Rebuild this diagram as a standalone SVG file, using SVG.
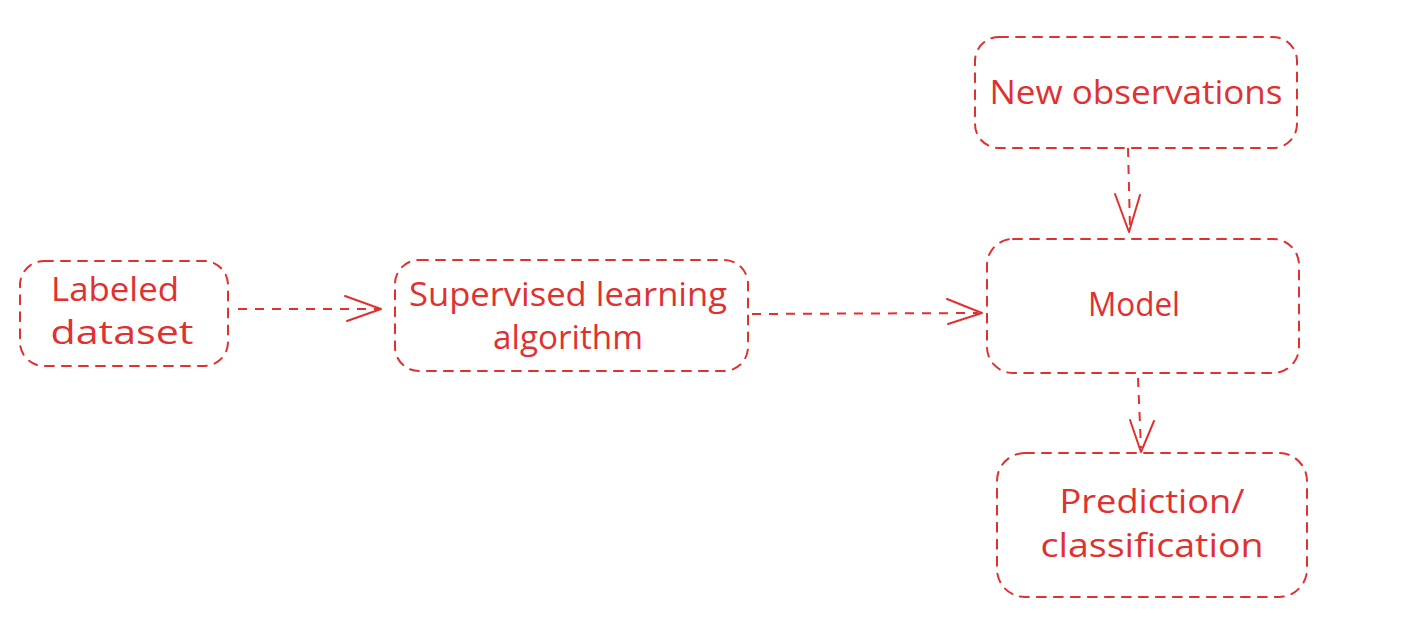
<svg xmlns="http://www.w3.org/2000/svg" width="1425" height="633" viewBox="0 0 1425 633">
<style>
.box{fill:none;stroke:#e03131;stroke-width:2;stroke-dasharray:9 8;stroke-linecap:round}
.edge{fill:none;stroke:#e03131;stroke-width:2;stroke-dasharray:9 8}
.head{fill:none;stroke:#e03131;stroke-width:2;stroke-linecap:round;stroke-linejoin:round}
.t{font-family:"Open Sans","Liberation Sans",sans-serif;font-size:32px;fill:#e03131;text-anchor:middle}
</style>
<rect width="1425" height="633" fill="#ffffff"/>
<g id="connectors">
<path class="edge" d="M238 309 L378 309"/>
<path class="head" d="M345 296 L381 309 L347 321"/>
<path class="edge" d="M752 314 L978 313"/>
<path class="head" d="M947 299 L982 313 L948 324"/>
<path class="edge" d="M1128 148 L1130 228"/>
<path class="head" d="M1115 194 L1129 232 L1140 195"/>
<path class="edge" d="M1138 378 L1141 448"/>
<path class="head" d="M1130 420 L1141 452 L1154 421"/>
</g>
<g id="labeled-dataset">
<rect class="box" x="20" y="261" width="208" height="105" rx="24"/>
<text class="t" x="115" y="301" textLength="128" lengthAdjust="spacingAndGlyphs">Labeled</text>
<text class="t" x="122" y="344" textLength="143" lengthAdjust="spacingAndGlyphs">dataset</text>
</g>
<g id="supervised-learning">
<rect class="box" x="395" y="260" width="353" height="111" rx="24"/>
<text class="t" x="568" y="306" textLength="318" lengthAdjust="spacingAndGlyphs">Supervised learning</text>
<text class="t" x="568" y="349" textLength="150" lengthAdjust="spacingAndGlyphs">algorithm</text>
</g>
<g id="new-observations">
<rect class="box" x="975" y="37" width="322" height="111" rx="24"/>
<text class="t" x="1136" y="104" textLength="293" lengthAdjust="spacingAndGlyphs">New observations</text>
</g>
<g id="model">
<rect class="box" x="987" y="239" width="312" height="134" rx="26"/>
<text class="t" x="1134" y="316" textLength="92" lengthAdjust="spacingAndGlyphs">Model</text>
</g>
<g id="prediction">
<rect class="box" x="997" y="453" width="310" height="144" rx="28"/>
<text class="t" x="1152" y="513" textLength="185" lengthAdjust="spacingAndGlyphs">Prediction/</text>
<text class="t" x="1152" y="557" textLength="223" lengthAdjust="spacingAndGlyphs">classification</text>
</g>
</svg>
